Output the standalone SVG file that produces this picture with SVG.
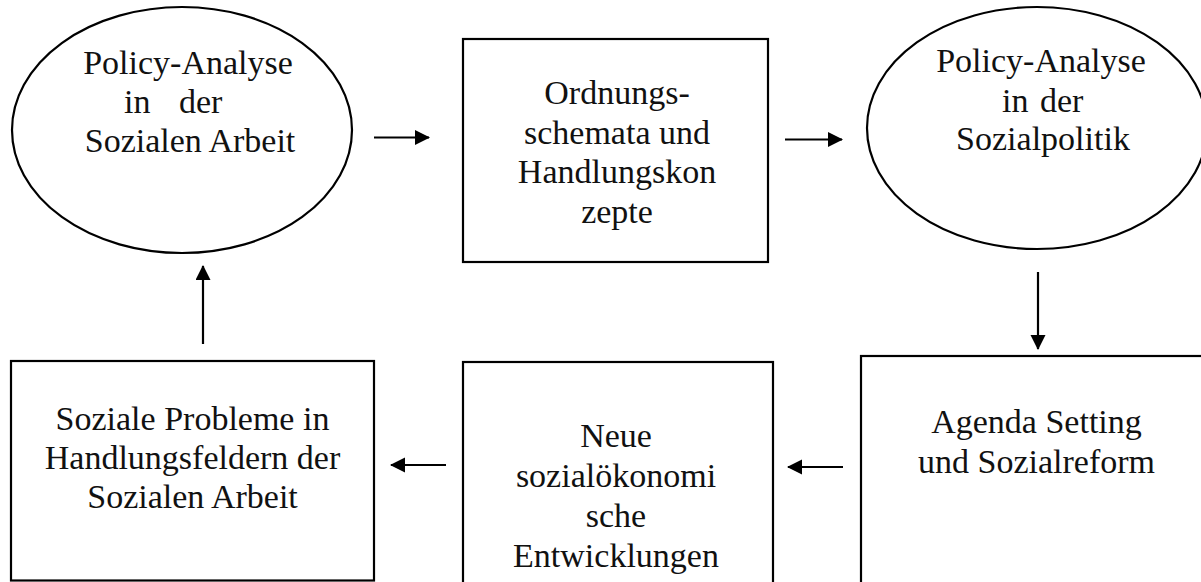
<svg xmlns="http://www.w3.org/2000/svg" width="1201" height="582" viewBox="0 0 1201 582">
<style>
.shape{fill:#fff;stroke:#000;stroke-width:2.2}
.t{font-family:"Liberation Serif","Times New Roman",serif;font-size:34px;fill:#111;text-anchor:middle}
.c{stroke:#000;stroke-width:2.2;fill:none;marker-end:url(#ah)}
</style>
<defs>
<marker id="ah" markerWidth="16" markerHeight="16" refX="14" refY="7.5" orient="auto" markerUnits="userSpaceOnUse">
<path d="M0,0 L15,7.5 L0,15 Z" fill="#000"/>
</marker>
</defs>
<rect width="1201" height="582" fill="#fff"/>
<g id="node-pa-soziale-arbeit">
<ellipse class="shape" cx="182" cy="130" rx="170" ry="123"/>
<text class="t" x="188" y="74">Policy-Analyse</text>
<text class="t" x="124" y="113" style="text-anchor:start" word-spacing="20">in der</text>
<text class="t" x="190" y="152">Sozialen Arbeit</text>
</g>
<g id="node-ordnungsschemata">
<rect class="shape" x="463" y="39" width="305" height="223"/>
<text class="t" x="617" y="104">Ordnungs-</text>
<text class="t" x="617" y="143.5">schemata und</text>
<text class="t" x="617" y="183">Handlungskon</text>
<text class="t" x="617" y="222.5">zepte</text>
</g>
<g id="node-pa-sozialpolitik">
<ellipse class="shape" cx="1037" cy="128" rx="170" ry="121"/>
<text class="t" x="1041" y="72">Policy-Analyse</text>
<text class="t" x="1002" y="112" style="text-anchor:start" word-spacing="3">in der</text>
<text class="t" x="1043" y="150">Sozialpolitik</text>
</g>
<g id="node-agenda">
<rect class="shape" x="861" y="356" width="400" height="240"/>
<text class="t" x="1036.5" y="433">Agenda Setting</text>
<text class="t" x="1036.5" y="473">und Sozialreform</text>
</g>
<g id="node-neue">
<rect class="shape" x="463" y="362" width="310" height="240"/>
<text class="t" x="616" y="447">Neue</text>
<text class="t" x="616" y="487">sozialökonomi</text>
<text class="t" x="616" y="527">sche</text>
<text class="t" x="616" y="567">Entwicklungen</text>
</g>
<g id="node-soziale-probleme">
<rect class="shape" x="11" y="361" width="363" height="219.5"/>
<text class="t" x="192.5" y="430">Soziale Probleme in</text>
<text class="t" x="192.5" y="469">Handlungsfeldern der</text>
<text class="t" x="192.5" y="508">Sozialen Arbeit</text>
</g>
<g id="connectors">
<line class="c" x1="374" y1="137.5" x2="429" y2="137.5"/>
<line class="c" x1="785" y1="139.5" x2="842" y2="139.5"/>
<line class="c" x1="1038" y1="272" x2="1038" y2="349"/>
<line class="c" x1="843" y1="467" x2="788" y2="467"/>
<line class="c" x1="446" y1="465" x2="391" y2="465"/>
<line class="c" x1="203" y1="344" x2="203" y2="266"/>
</g>
</svg>
